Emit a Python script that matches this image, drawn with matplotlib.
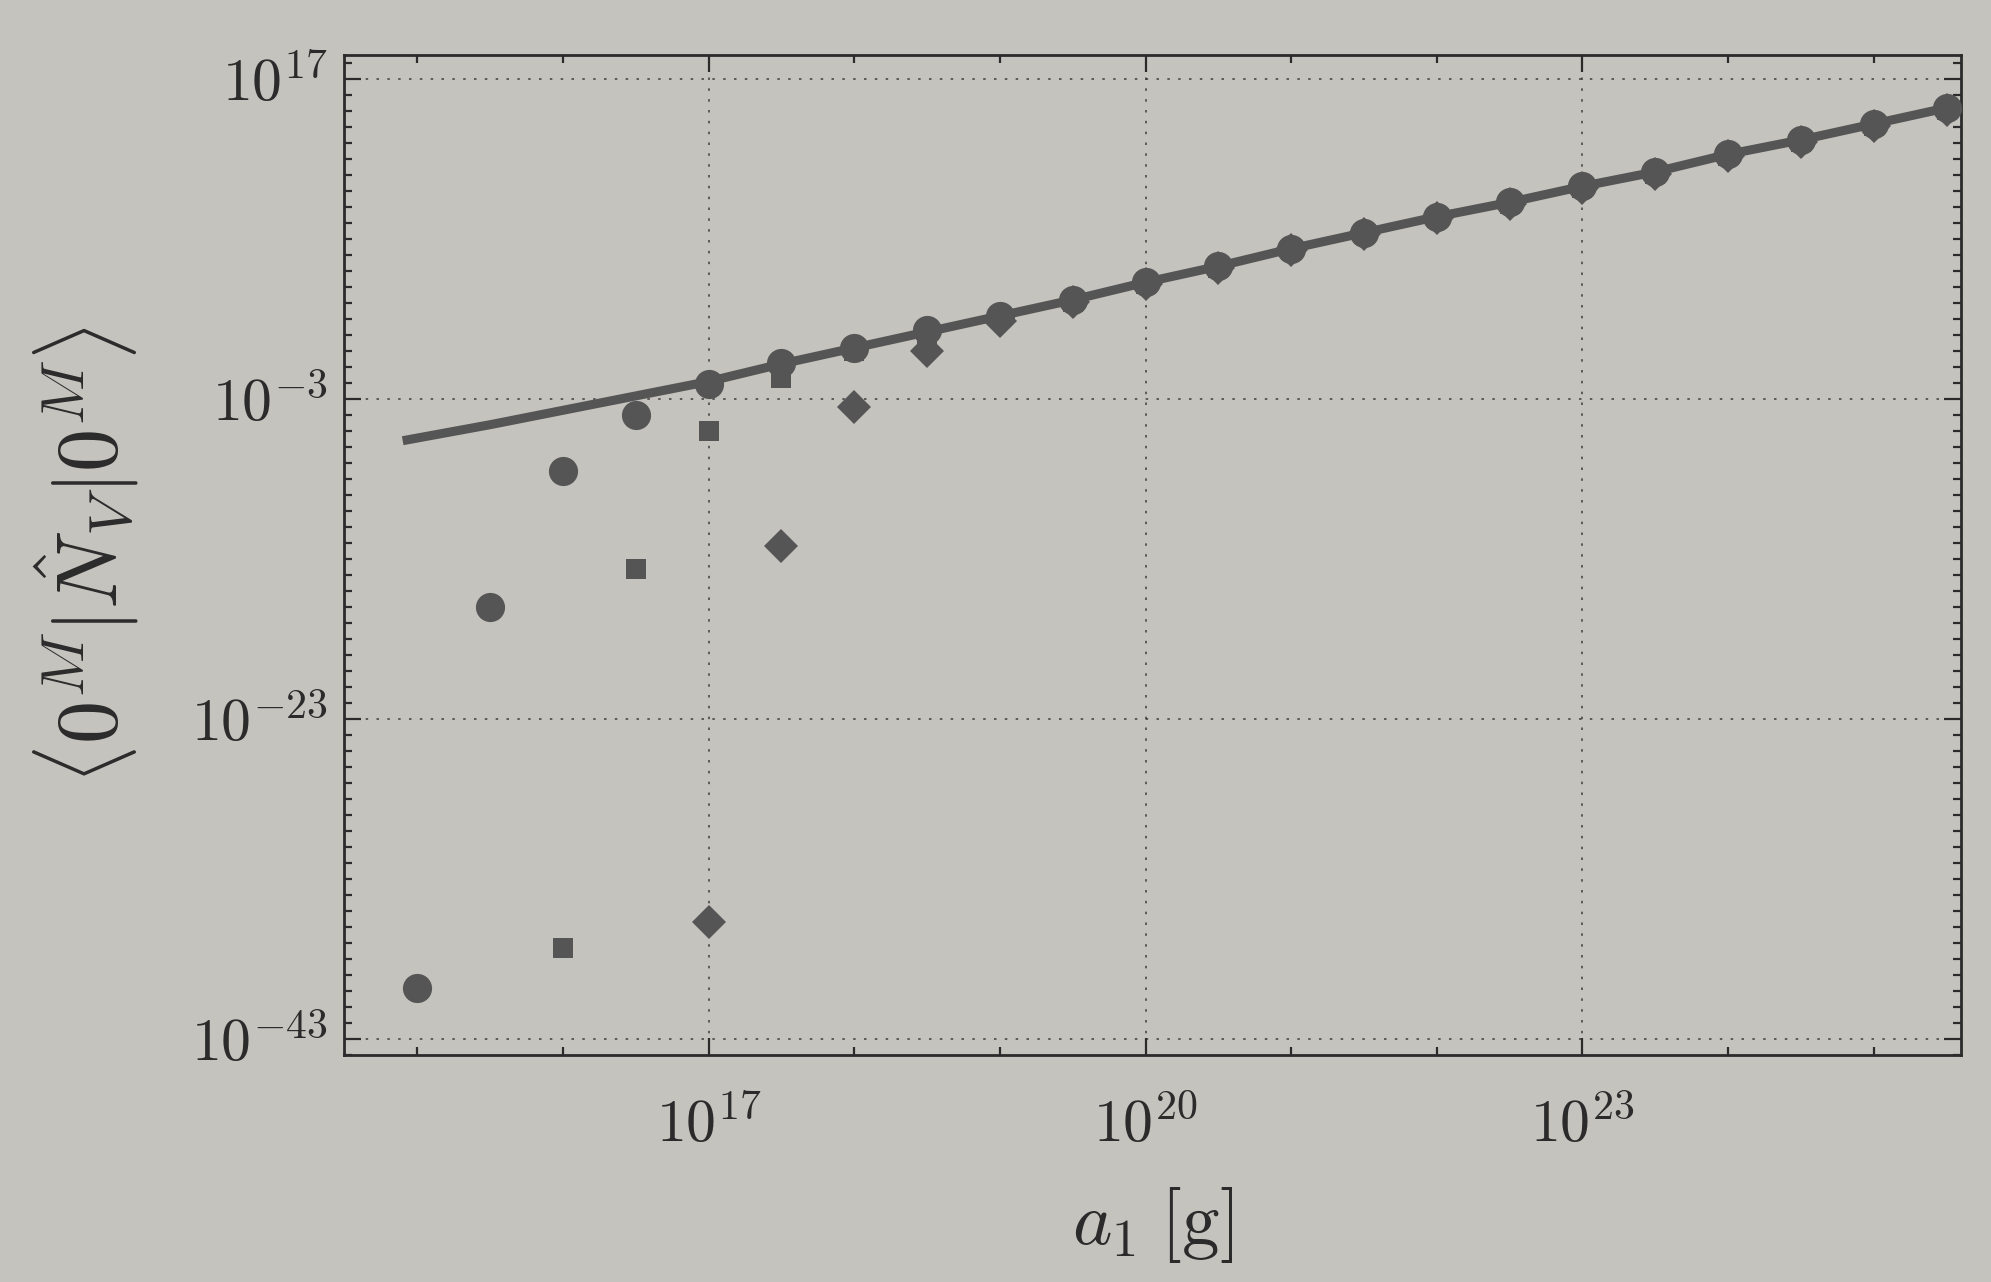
import numpy as np
import matplotlib.pyplot as plt
from matplotlib.ticker import FixedLocator, FuncFormatter, NullFormatter

# exponents (log10): x = a_1 [g], y = <0^M|N_V|0^M>
line_logx = [14.9, 15.5, 16.0, 16.5, 17.0, 17.5, 18.0, 18.5, 19.0, 19.5, 20.0, 20.5,
             21.0, 21.5, 22.0, 22.5, 23.0, 23.5, 24.0, 24.5, 25.0, 25.5, 25.6]
line_logy = [-5.6, -4.6, -3.7, -2.8, -1.9, -0.8, 0.2, 1.2, 2.2, 3.2, 4.3, 5.3,
             6.4, 7.4, 8.4, 9.3, 10.3, 11.2, 12.3, 13.2, 14.2, 15.2, 15.4]

circ_logx = [15.0, 15.5, 16.0, 16.5, 17.0, 17.5, 18.0, 18.5, 19.0, 19.5, 20.0,
             20.5, 21.0, 21.5, 22.0, 22.5, 23.0, 23.5, 24.0, 24.5, 25.0, 25.5]
circ_logy = [-39.8, -16.0, -7.5, -4.0, -2.05, -0.75, 0.2, 1.3, 2.2, 3.2, 4.3,
             5.3, 6.4, 7.4, 8.4, 9.3, 10.3, 11.2, 12.3, 13.2, 14.2, 15.2]

sq_logx = [16.0, 16.5, 17.0, 17.5, 18.0, 18.5, 19.0, 19.5, 20.0, 20.5, 21.0,
           21.5, 22.0, 22.5, 23.0, 23.5, 24.0, 24.5, 25.0, 25.5]
sq_logy = [-37.3, -13.6, -5.0, -1.7, 0.0, 1.1, 2.1, 3.1, 4.2, 5.2, 6.3,
           7.3, 8.3, 9.2, 10.2, 11.1, 12.2, 13.1, 14.1, 15.1]

dia_logx = [17.0, 17.5, 18.0, 18.5, 19.0, 19.5, 20.0, 20.5, 21.0, 21.5, 22.0,
            22.5, 23.0, 23.5, 24.0, 24.5, 25.0, 25.5]
dia_logy = [-35.7, -12.2, -3.5, 0.0, 1.9, 3.1, 4.2, 5.2, 6.3, 7.3, 8.3,
            9.2, 10.2, 11.1, 12.2, 13.1, 14.1, 15.1]

x_major = [17, 20, 23]
y_major = [-43, -23, -3, 17]

paper = '#c5c3be'
ink = '#2b2b2b'
dots = '#555555'

plt.rcParams['mathtext.fontset'] = 'cm'
plt.rcParams['font.family'] = 'serif'
plt.rcParams['font.serif'] = ['DejaVu Serif']


def pow10(v, pos):
    return r'$10^{%d}$' % round(np.log10(v))


fig = plt.figure(figsize=(19.91, 12.82), dpi=100, facecolor=paper)
ax = fig.add_axes([0.173, 0.177, 0.812, 0.78], facecolor=paper)

ax.plot(10**np.array(line_logx), 10**np.array(line_logy), color=dots, lw=6.5,
        solid_capstyle='butt', zorder=2)
ax.plot(10**np.array(circ_logx), 10**np.array(circ_logy), 'o', color=dots,
        ms=21, mew=0, zorder=3)
ax.plot(10**np.array(sq_logx), 10**np.array(sq_logy), 's', color=dots,
        ms=14, mew=0, zorder=3)
ax.plot(10**np.array(dia_logx), 10**np.array(dia_logy), 'D', color=dots,
        ms=17, mew=0, zorder=4)

ax.set_xscale('log')
ax.set_yscale('log')
ax.set_xlim(10**14.5, 10**25.6)
ax.set_ylim(10**-44, 10**18.5)

ax.xaxis.set_major_locator(FixedLocator([10.0**k for k in x_major]))
ax.xaxis.set_minor_locator(FixedLocator([10.0**k for k in range(14, 27)]))
ax.yaxis.set_major_locator(FixedLocator([10.0**k for k in y_major]))
ax.yaxis.set_minor_locator(FixedLocator([10.0**k for k in range(-45, 20)]))
ax.xaxis.set_major_formatter(FuncFormatter(pow10))
ax.yaxis.set_major_formatter(FuncFormatter(pow10))
ax.xaxis.set_minor_formatter(NullFormatter())
ax.yaxis.set_minor_formatter(NullFormatter())

ax.tick_params(which='both', direction='in', top=True, right=True, colors=ink,
               width=1.6)
ax.tick_params(which='major', length=12, labelsize=43)
ax.tick_params(which='minor', length=6)
ax.tick_params(axis='x', which='major', pad=30)
ax.tick_params(axis='y', which='major', pad=12)

ax.grid(True, which='major', ls=(0, (1.5, 5)), color=ink, lw=1.2, alpha=0.8)
for s in ax.spines.values():
    s.set_color(ink)
    s.set_linewidth(2)

ax.set_xlabel(r'$a_1\;[\mathrm{g}]$', fontsize=54, color=ink, labelpad=22)
ax.set_ylabel(r'$\langle 0^M|\hat{N}_V|0^M\rangle$', fontsize=62, color=ink,
              labelpad=36)

fig.savefig('out.png', dpi=100, facecolor=paper)
